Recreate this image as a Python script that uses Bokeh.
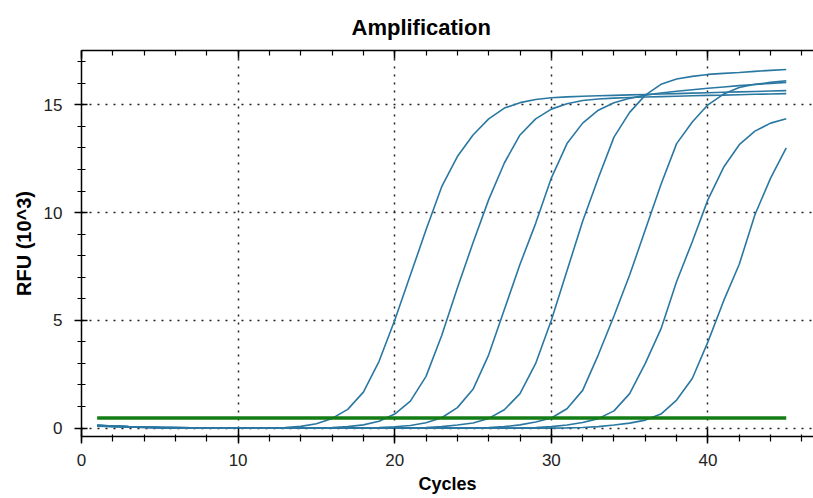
from bokeh.plotting import figure
from bokeh.models import Range1d, LinearAxis, SingleIntervalTicker
from bokeh.embed import file_html
from bokeh.resources import INLINE

# ---- data (RFU in units of 10^3) ----
cycles = [1, 2, 3, 4, 5, 6, 7, 8, 9, 10, 11, 12, 13, 14, 15, 16, 17, 18, 19, 20,
          21, 22, 23, 24, 25, 26, 27, 28, 29, 30, 31, 32, 33, 34, 35, 36, 37, 38, 39, 40,
          41, 42, 43, 44, 45]

well_1 = [0.14, 0.10, 0.07, 0.05, 0.03, 0.02, 0.01, 0.00, 0.00, 0.00,
          0.00, 0.01, 0.03, 0.08, 0.20, 0.45, 0.87, 1.67, 3.10, 5.00,
          7.10, 9.20, 11.20, 12.60, 13.60, 14.35, 14.85, 15.10, 15.25, 15.33,
          15.37, 15.40, 15.42, 15.44, 15.46, 15.48, 15.50, 15.52, 15.54, 15.56,
          15.58, 15.60, 15.62, 15.64, 15.66]

well_2 = [0.12, 0.09, 0.06, 0.04, 0.03, 0.02, 0.01, 0.00, 0.00, 0.00,
          0.00, 0.00, 0.00, 0.00, 0.01, 0.03, 0.07, 0.15, 0.32, 0.65,
          1.25, 2.40, 4.30, 6.50, 8.60, 10.60, 12.30, 13.60, 14.35, 14.80,
          15.05, 15.20, 15.27, 15.31, 15.34, 15.36, 15.38, 15.40, 15.42, 15.44,
          15.45, 15.47, 15.49, 15.50, 15.52]

well_3 = [0.10, 0.08, 0.05, 0.03, 0.02, 0.01, 0.00, 0.00, 0.00, 0.00,
          0.00, 0.00, 0.00, 0.00, 0.00, 0.00, 0.00, 0.01, 0.03, 0.06,
          0.12, 0.25, 0.48, 0.95, 1.80, 3.40, 5.50, 7.60, 9.50, 11.60,
          13.20, 14.15, 14.75, 15.10, 15.30, 15.45, 15.55, 15.63, 15.70, 15.77,
          15.83, 15.89, 15.94, 15.99, 16.04]

well_4 = [0.13, 0.10, 0.07, 0.05, 0.03, 0.02, 0.01, 0.00, 0.00, 0.00,
          0.00, 0.00, 0.00, 0.00, 0.00, 0.00, 0.00, 0.00, 0.00, 0.00,
          0.01, 0.03, 0.07, 0.14, 0.24, 0.45, 0.85, 1.60, 3.00, 5.00,
          7.30, 9.60, 11.60, 13.50, 14.65, 15.45, 15.95, 16.20, 16.32, 16.41,
          16.46, 16.50, 16.55, 16.60, 16.64]

well_5 = [0.11, 0.08, 0.06, 0.04, 0.02, 0.01, 0.00, 0.00, 0.00, 0.00,
          0.00, 0.00, 0.00, 0.00, 0.00, 0.00, 0.00, 0.00, 0.00, 0.00,
          0.00, 0.00, 0.00, 0.00, 0.01, 0.03, 0.07, 0.15, 0.28, 0.47,
          0.90, 1.75, 3.40, 5.20, 7.10, 9.20, 11.30, 13.20, 14.20, 15.00,
          15.50, 15.80, 15.95, 16.04, 16.12]

well_6 = [0.09, 0.07, 0.05, 0.03, 0.02, 0.01, 0.00, 0.00, 0.00, 0.00,
          0.00, 0.00, 0.00, 0.00, 0.00, 0.00, 0.00, 0.00, 0.00, 0.00,
          0.00, 0.00, 0.00, 0.00, 0.00, 0.00, 0.00, 0.01, 0.03, 0.07,
          0.14, 0.26, 0.44, 0.80, 1.60, 3.00, 4.60, 6.80, 8.65, 10.60,
          12.10, 13.15, 13.78, 14.15, 14.35]

well_7 = [0.12, 0.09, 0.06, 0.04, 0.02, 0.01, 0.00, 0.00, 0.00, 0.00,
          0.00, 0.00, 0.00, 0.00, 0.00, 0.00, 0.00, 0.00, 0.00, 0.00,
          0.00, 0.00, 0.00, 0.00, 0.00, 0.00, 0.00, 0.00, 0.00, 0.00,
          0.01, 0.03, 0.07, 0.14, 0.23, 0.37, 0.65, 1.30, 2.30, 4.00,
          5.90, 7.60, 9.90, 11.60, 13.00]

wells = [well_1, well_2, well_3, well_4, well_5, well_6, well_7]

threshold = 0.47
threshold_span = [1, 45]

title_text = "Amplification"
x_label = "Cycles"
y_label = "RFU (10^3)"

# ---- styling ----
FONT = "Liberation Sans"
CURVE_COLOR = "#2a78a2"
THRESH_COLOR = "#147c14"

p = figure(width=813, height=498, output_backend="svg", toolbar_location=None,
           x_range=Range1d(0, 46.74), y_range=Range1d(-0.39, 17.52),
           min_border_left=81, min_border_right=0, min_border_top=50, min_border_bottom=62)
p.outline_line_color = None
p.background_fill_color = "white"
p.border_fill_color = "white"

p.title.text = title_text
p.title.align = "left"
p.title.offset = 270
p.title.standoff = 21
p.title.text_font = FONT
p.title.text_font_style = "bold"
p.title.text_font_size = "22px"
p.title.text_color = "black"

xt = SingleIntervalTicker(interval=10, num_minor_ticks=5)
yt = SingleIntervalTicker(interval=5, num_minor_ticks=5)
p.xaxis.ticker = xt
p.yaxis.ticker = yt
p.xgrid.ticker = xt
p.ygrid.ticker = yt

for g in (p.xgrid, p.ygrid):
    g.grid_line_color = "#222222"
    g.grid_line_dash = "2 6"
    g.grid_line_width = 1.5

for ax in (p.xaxis, p.yaxis):
    ax.axis_line_color = "black"
    ax.axis_line_width = 1.5
    ax.major_tick_line_color = "black"
    ax.minor_tick_line_color = "black"
    ax.major_tick_line_width = 1.5
    ax.minor_tick_line_width = 1.2
    ax.major_label_text_font = FONT
    ax.major_label_text_font_size = "17px"
    ax.major_label_text_color = "#222222"
    ax.axis_label_text_font = FONT
    ax.axis_label_text_font_style = "bold"
    ax.axis_label_text_color = "black"

p.xaxis.major_tick_in = 8
p.xaxis.major_tick_out = 7
p.xaxis.minor_tick_in = 2
p.xaxis.minor_tick_out = 5
p.xaxis.major_label_standoff = 10
p.xaxis.axis_label = x_label
p.xaxis.axis_label_text_font_size = "18px"
p.xaxis.axis_label_standoff = 5

p.yaxis.major_tick_in = 6
p.yaxis.major_tick_out = 7
p.yaxis.minor_tick_in = 4
p.yaxis.minor_tick_out = 4
p.yaxis.major_label_standoff = 12
p.yaxis.axis_label = y_label
p.yaxis.axis_label_text_font_size = "20px"
p.yaxis.axis_label_standoff = 6

top = LinearAxis(ticker=SingleIntervalTicker(interval=10, num_minor_ticks=5),
                 major_label_text_font_size="1px", major_label_text_color=None,
                 major_label_standoff=0,
                 major_tick_in=8, major_tick_out=0, minor_tick_in=5, minor_tick_out=0,
                 axis_line_color="black", axis_line_width=1.5,
                 major_tick_line_width=1.5, minor_tick_line_width=1.2)
p.add_layout(top, "above")

for w in wells:
    p.line(cycles, w, line_color=CURVE_COLOR, line_width=1.6)

p.line(threshold_span, [threshold, threshold], line_color=THRESH_COLOR, line_width=3.5)

open("out.html", "w").write(file_html(p, INLINE))
